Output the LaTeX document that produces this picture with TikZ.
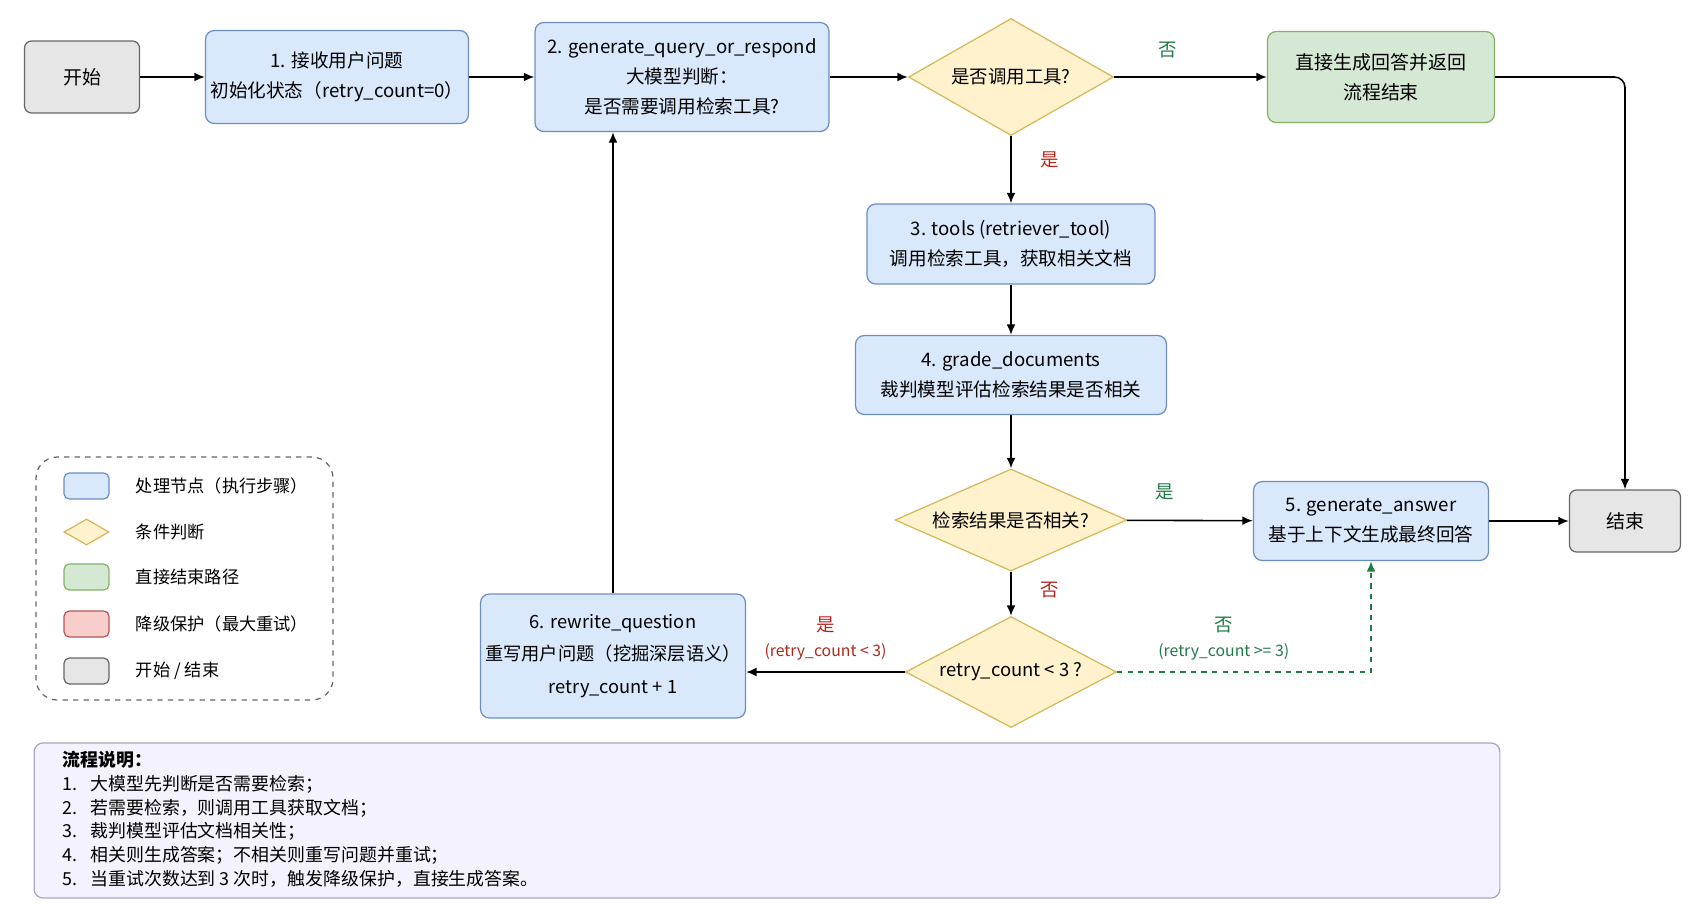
\documentclass[tikz,border=0pt]{standalone}
\usepackage{fontspec}
\setmainfont{Noto Sans CJK SC}
\usepackage{xcolor}
\usepackage{tikz}
\usetikzlibrary{arrows,arrows.meta,positioning,calc,shapes.geometric}
\definecolor{procblue}{HTML}{DAE8FC}
\definecolor{procline}{HTML}{6C8EBF}
\definecolor{condyellow}{HTML}{FFF2CC}
\definecolor{condline}{HTML}{D6B656}
\definecolor{directgreen}{HTML}{D5E8D4}
\definecolor{directline}{HTML}{82B366}
\definecolor{guardred}{HTML}{F8CECC}
\definecolor{guardline}{HTML}{B85450}
\definecolor{termgray}{HTML}{E6E6E6}
\definecolor{termline}{HTML}{666666}
\definecolor{notefill}{HTML}{F4F2FD}
\definecolor{noteline}{HTML}{ABA4C6}
\definecolor{yesgreen}{HTML}{1F7A45}
\definecolor{nored}{HTML}{B3261E}

\tikzset{
  procbox/.style={draw=procline, fill=procblue, rounded corners=5pt, line width=0.7pt, inner xsep=1pt, align=center, font=\fontsize{10.6}{17}\selectfont},
  termbox/.style={draw=termline, fill=termgray, rounded corners=4pt, line width=0.7pt, font=\fontsize{10.8}{17}\selectfont},
  directbox/.style={draw=directline, fill=directgreen, rounded corners=5pt, line width=0.7pt, align=center, font=\fontsize{10.8}{17}\selectfont},
  decision/.style={diamond, draw=condline, fill=condyellow, inner sep=0pt, line width=0.7pt, font=\fontsize{10.5}{13}\selectfont},
  flow/.style={-{Latex[length=6pt, width=5pt]}, line width=0.9pt},
  lbl/.style={font=\fontsize{10.5}{13}\selectfont},
  condlbl/.style={align=center, font=\fontsize{9}{14}\selectfont},
  swatch/.style={rounded corners=3pt, minimum width=0.9cm, minimum height=0.52cm, line width=0.7pt},
  keytext/.style={anchor=west, inner sep=0pt, font=\fontsize{9.8}{12}\selectfont}
}

\begin{document}
\begin{tikzpicture}[x=0.02cm, y=-0.02cm]
\useasboundingbox (0,0) rectangle (1705,923);

% main flow
\node[termbox, minimum width=2.3cm, minimum height=1.44cm] (start) at (82,77) {开始};
\node[procbox, minimum width=5.26cm, minimum height=1.86cm] (recv) at (337,77) {1. 接收用户问题\\初始化状态（retry\_count=0）};
\node[procbox, minimum width=5.88cm, minimum height=2.18cm] (decide) at (682,77) {2. generate\_query\_or\_respond\\大模型判断：\\是否需要调用检索工具?};
\node[decision, aspect=1.75, minimum width=4.1cm, minimum height=2.34cm] (needtool) at (1011,77) {是否调用工具?};
\node[directbox, minimum width=4.54cm, minimum height=1.82cm] (direct) at (1381,77) {直接生成回答并返回\\流程结束};
\node[procbox, minimum width=5.76cm, minimum height=1.6cm] (tools) at (1011,244) {3. tools (retriever\_tool)\\调用检索工具，获取相关文档};
\node[procbox, minimum width=6.22cm, minimum height=1.58cm] (grade) at (1011,375) {4. grade\_documents\\裁判模型评估检索结果是否相关};
\node[decision, aspect=2.27, minimum width=4.64cm, minimum height=2.04cm] (relevant) at (1011,520) {检索结果是否相关?};
\node[procbox, minimum width=4.7cm, minimum height=1.58cm] (answer) at (1371,521) {5. generate\_answer\\基于上下文生成最终回答};
\node[termbox, minimum width=2.22cm, minimum height=1.24cm] (finish) at (1625,521) {结束};
\node[decision, aspect=1.9, minimum width=4.22cm, minimum height=2.22cm] (retry) at (1011,672) {retry\_count < 3 ?};
\node[procbox, minimum width=5.3cm, minimum height=2.48cm, font=\fontsize{10.4}{18.5}\selectfont] (rewrite) at (613,656) {6. rewrite\_question\\重写用户问题（挖掘深层语义）\\retry\_count + 1};

\draw[flow] (start) -- (recv);
\draw[flow] (recv) -- (decide);
\draw[flow] (decide) -- (needtool);
\draw[flow] (needtool) -- node[lbl, pos=0.35, above=7pt, text=yesgreen] {否} (direct);
\draw[flow, rounded corners=6pt] (direct.east) -| (finish.north);
\draw[flow] (needtool) -- node[lbl, pos=0.35, right=13pt, text=nored] {是} (tools);
\draw[flow] (tools) -- (grade);
\draw[flow] (grade) -- (relevant);
\draw[flow] (relevant) -- node[lbl, pos=0.3, above=8pt, text=yesgreen] {是} (answer);
\draw[flow] (answer) -- (finish);
\draw[flow] (relevant) -- node[lbl, pos=0.42, right=13pt, text=nored] {否} (retry);
\draw[flow] (retry.west) -- node[condlbl, above=3pt, text=nored] {{\fontsize{10.5}{14}\selectfont 是}\\(retry\_count < 3)} (retry.west -| rewrite.east);
\draw[flow, dashed, yesgreen] (retry.east) -| node[condlbl, pos=0.21, above=3pt] {{\fontsize{10.5}{14}\selectfont 否}\\(retry\_count >= 3)} (answer.south);
\draw[flow] (rewrite.north) -- (rewrite.north |- decide.south);

% legend
\node[draw=termline, dashed, rounded corners=12pt, line width=0.7pt, minimum width=5.94cm, minimum height=4.86cm] (legend) at (184.5,578.5) {};
\node[swatch, draw=procline, fill=procblue] (keyproc) at (86.5,486) {};
\node[keytext, right=0.52cm of keyproc] (keyproctext) {处理节点（执行步骤）};
\node[diamond, aspect=1.7, minimum width=0.9cm, minimum height=0.52cm, inner sep=0pt, line width=0.7pt, draw=condline, fill=condyellow] (keycond) at (86.5,532) {};
\node[keytext, right=0.52cm of keycond] (keycondtext) {条件判断};
\node[swatch, draw=directline, fill=directgreen] (keydirect) at (86.5,577) {};
\node[keytext, right=0.52cm of keydirect] (keydirecttext) {直接结束路径};
\node[swatch, draw=guardline, fill=guardred] (keyguard) at (86.5,624) {};
\node[keytext, right=0.52cm of keyguard] (keyguardtext) {降级保护（最大重试）};
\node[swatch, draw=termline, fill=termgray] (keyterm) at (86.5,671) {};
\node[keytext, right=0.52cm of keyterm] (keytermtext) {开始 / 结束};

% notes
\node[draw=noteline, fill=notefill, rounded corners=5pt, line width=0.7pt, minimum width=29.32cm, minimum height=3.1cm] (notes) at (767,820.5) {};
\node[anchor=north west, align=left, inner sep=0pt, font=\fontsize{10.2}{13.5}\selectfont] (notetext) at (62,751) {\textbf{流程说明：}\\
\makebox[16pt][l]{1.}大模型先判断是否需要检索；\\
\makebox[16pt][l]{2.}若需要检索，则调用工具获取文档；\\
\makebox[16pt][l]{3.}裁判模型评估文档相关性；\\
\makebox[16pt][l]{4.}相关则生成答案；不相关则重写问题并重试；\\
\makebox[16pt][l]{5.}当重试次数达到 3 次时，触发降级保护，直接生成答案。};
\end{tikzpicture}
\end{document}
